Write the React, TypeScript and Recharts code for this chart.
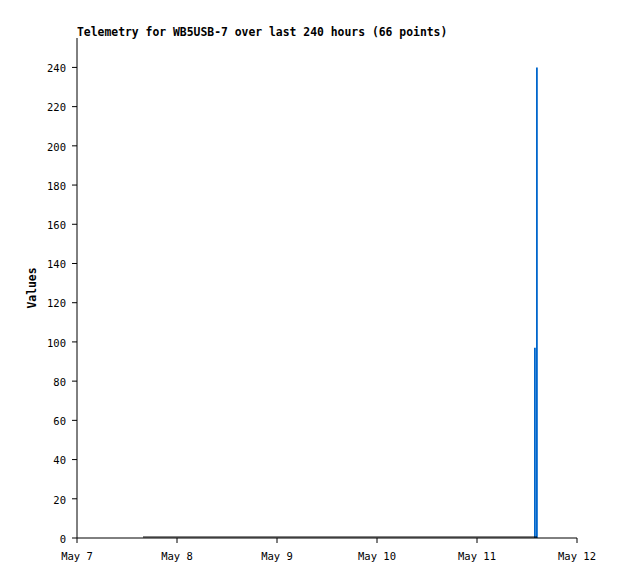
import { Bar, ComposedChart, Line, XAxis, YAxis } from 'recharts'

// days since May 7 00:00
const lowTimes = [0.66, 1.0, 1.5, 2.0, 2.5, 3.0, 3.5, 4.0, 4.5, 4.6]
const lowValues = [0.5, 0.5, 0.5, 0.5, 0.5, 0.5, 0.5, 0.5, 0.5, 0.5]
const spikeTimes = [4.58, 4.6]
const spikeValues = [97, 240]
const dayTicks = [0, 1, 2, 3, 4, 5]
const dayLabels = ['May 7', 'May 8', 'May 9', 'May 10', 'May 11', 'May 12']
const valueTicks = [0, 20, 40, 60, 80, 100, 120, 140, 160, 180, 200, 220, 240]

const FONT = '"DejaVu Sans Mono", "Liberation Mono", monospace'
const tickStyle = { fontSize: 10.5, fill: '#000', fontFamily: FONT }

export default function App() {
  const rows: { t: number; low?: number; spike?: number }[] = []
  lowTimes.forEach((t, i) => rows.push({ t, low: lowValues[i] }))
  spikeTimes.forEach((t, i) => rows.push({ t, spike: spikeValues[i] }))
  rows.sort((a, b) => a.t - b.t)

  return (
    <div style={{ position: 'absolute', left: 0, top: 0, width: 618, height: 579, background: '#fff' }}>
      <div style={{ position: 'absolute', left: 77, top: 25, fontFamily: FONT, fontWeight: 'bold', fontSize: 11.4, whiteSpace: 'nowrap' }}>
        Telemetry for WB5USB-7 over last 240 hours (66 points)
      </div>
      <div style={{ position: 'absolute', left: 32, top: 288, transform: 'translate(-50%, -50%) rotate(-90deg)', fontFamily: FONT, fontWeight: 'bold', fontSize: 11.4 }}>
        Values
      </div>
      <ComposedChart width={618} height={579} data={rows} margin={{ top: 38, right: 41, bottom: 0, left: 17 }}>
        <XAxis dataKey="t" type="number" domain={[0, 5]} ticks={dayTicks} tickFormatter={(v) => dayLabels[v] ?? ''}
          tick={tickStyle} tickSize={5} tickMargin={10} stroke="#000" height={41} interval={0} />
        <XAxis xAxisId="top" orientation="top" dataKey="t" type="number" domain={[0, 5]} tick={false} tickLine={false} height={0} stroke="#333" />
        <YAxis domain={[0, 255]} ticks={valueTicks} tick={{ ...tickStyle, dy: 1 }} tickSize={5} tickMargin={6} stroke="#000" width={60} interval={0} />
        <YAxis yAxisId="right" orientation="right" domain={[0, 255]} tick={false} tickLine={false} width={0} stroke="#333" />
        <Bar dataKey="spike" fill="#0066cc" barSize={2} isAnimationActive={false} />
        <Line dataKey="low" stroke="#000" strokeWidth={1} dot={false} connectNulls isAnimationActive={false} />
      </ComposedChart>
    </div>
  )
}
